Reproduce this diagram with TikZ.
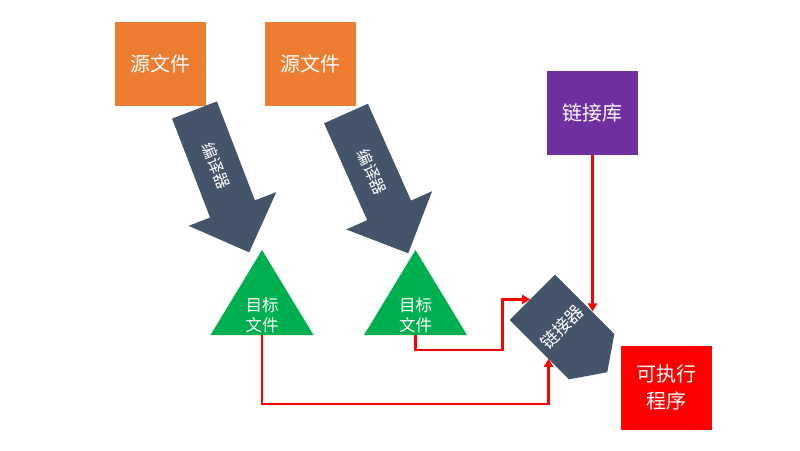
\documentclass[tikz,border=0pt]{standalone}
\usepackage{fontspec}
\newfontfamily\cjk{Noto Sans CJK SC}
\usetikzlibrary{arrows.meta}
\definecolor{srcorange}{HTML}{ED7D31}
\definecolor{libpurple}{HTML}{7030A0}
\definecolor{slate}{HTML}{44546A}
\definecolor{objgreen}{HTML}{00B050}
\definecolor{exered}{HTML}{FF0000}
\begin{document}
\begin{tikzpicture}[x=1pt,y=-1pt,
  box/.style={minimum width=91pt,minimum height=84pt,inner sep=0pt,text=white,
    align=center,font=\cjk\fontsize{20}{27}\selectfont},
  lbl/.style={text=white,inner sep=0pt,align=center},
  arrowtext/.style={lbl,font=\cjk\fontsize{16}{18}\selectfont},
  objtext/.style={lbl,font=\cjk\fontsize{16.5}{20.5}\selectfont},
  conn/.style={draw=exered,line width=2.8pt,-{Triangle[length=8pt,width=9pt]}}
]
\useasboundingbox (0,0) rectangle (800,450);

% source files, library and executable
\node[box,fill=srcorange] (src1) at (160.5,64) {源文件};
\node[box,fill=srcorange] (src2) at (310.5,64) {源文件};
\node[box,fill=libpurple] (lib) at (592.5,112.5) {链接库};
\node[box,fill=exered] (exe) at (666.5,387.5) {可执行\\程序};

% compiler block arrows
\begin{scope}[shift={(194.5,110)},rotate=21]
  \fill[slate] (-24,0) -- (24,0) -- (24,106) -- (47,106) -- (0,152.5)
    -- (-47,106) -- (-24,106) -- cycle;
  \node[arrowtext,transform shape,rotate=-90] (cc1) at (0,60) {编译器};
\end{scope}
\begin{scope}[shift={(346,113.5)},rotate=24]
  \fill[slate] (-24,0) -- (24,0) -- (24,106) -- (47,106) -- (0,153)
    -- (-47,106) -- (-24,106) -- cycle;
  \node[arrowtext,transform shape,rotate=-90] (cc2) at (0,64) {编译器};
\end{scope}

% object files
\fill[objgreen] (262,250) -- (313.5,335) -- (210.5,335) -- cycle;
\node[objtext] (obj1) at (262,315) {目标\\文件};
\coordinate (obj1b) at (262,335);
\fill[objgreen] (415.5,250) -- (467,335) -- (364,335) -- cycle;
\node[objtext] (obj2) at (415.5,315) {目标\\文件};
\coordinate (obj2b) at (415.5,335);

% linker
\begin{scope}[shift={(562,327)},rotate=45]
  \fill[slate] (-32,-42) -- (32,-42) -- (32,42) -- (0,64) -- (-32,42) -- cycle;
  \node[lbl,transform shape,font=\cjk\fontsize{17.5}{20}\selectfont] (linker) at (0,0) {链接器};
  \coordinate (lkA) at (-3,-42);
  \coordinate (lkR) at (32,10);
  \coordinate (lkB) at (-32,13);
\end{scope}

% connections into the linker
\draw[conn] (obj1b) -- ++(0,69) -| (lkB);
\draw[conn] (obj2b) -- ++(0,15) -| ([xshift=-28pt]lkA) -- (lkA);
\draw[conn] (lib.south) -- (lib.south |- lkR);
\end{tikzpicture}
\end{document}
